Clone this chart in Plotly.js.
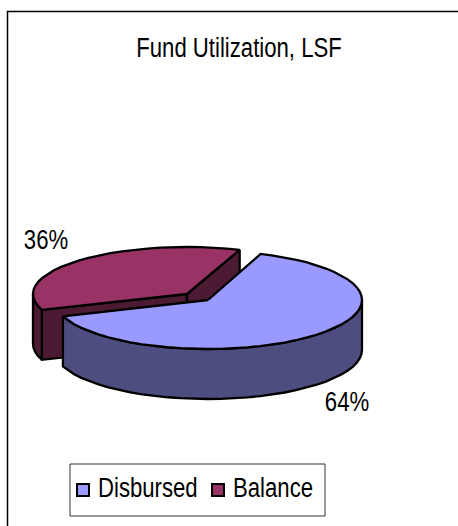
<!DOCTYPE html>
<html><head><meta charset="utf-8">
<script src="https://cdn.plot.ly/plotly-3.0.1.min.js"></script>
<style>html,body{margin:0;padding:0;background:#fff}</style></head>
<body><div id="chart" style="width:458px;height:526px"></div>
<script>
const categories = ['Disbursed', 'Balance'];
const values = [64, 36];
const topColors = ['#9999FF', '#993366'];
const sideColors = ['#4D4D80', '#4D1A33'];
const chartTitle = 'Fund Utilization, LSF';

// Pie projection, in the pixel-like axis units of the hidden axes
const RX = 154, DEPTH = 50, START = 70;
const centers = [{x: 208, y: 300, ry: 49}, {x: 187, y: 294, ry: 47}];
const total = values.reduce((a, b) => a + b, 0);
const sweep = values.map(v => v / total * 360);

function pt(c, deg, dz) {
  const t = deg * Math.PI / 180;
  return [c.x + RX * Math.cos(t), c.y - c.ry * Math.sin(t) + (dz || 0)];
}
function arc(c, a, b, dz) {
  const n = Math.max(2, Math.round(Math.abs(b - a) / 5)), out = [];
  for (let i = 0; i <= n; i++) out.push(pt(c, a + (b - a) * i / n, dz));
  return out;
}
function poly(points, color, name) {
  const p = points.concat([points[0]]);
  return {type: 'scatter', mode: 'lines', x: p.map(q => q[0]), y: p.map(q => q[1]),
    fill: 'toself', fillcolor: color, line: {color: '#000', width: 2.3},
    hoverinfo: 'skip', showlegend: false, name: name};
}

// Blue slice runs clockwise from START; red slice fills the rest
const blueEnd = START - sweep[0];
const redEnd = START + sweep[1];
const cb = centers[0], cr = centers[1];
const traces = [];

// Balance slice: visible walls then top
const rLeft = pt(cr, redEnd), rTop = pt(cr, START);
traces.push(poly(arc(cr, 180, redEnd).concat(arc(cr, redEnd, 180, DEPTH)), sideColors[1], categories[1]));
traces.push(poly([[cr.x, cr.y], rLeft, [rLeft[0], rLeft[1] + DEPTH], [cr.x, cr.y + DEPTH]], sideColors[1], categories[1]));
traces.push(poly([[cr.x, cr.y], rTop, [rTop[0], rTop[1] + DEPTH], [cr.x, cr.y + DEPTH]], sideColors[1], categories[1]));
traces.push(poly([[cr.x, cr.y]].concat(arc(cr, START, redEnd)), topColors[1], categories[1]));

// Disbursed slice: front wall then top
traces.push(poly(arc(cb, blueEnd, 0).concat(arc(cb, 0, blueEnd, DEPTH)), sideColors[0], categories[0]));
traces.push(poly([[cb.x, cb.y]].concat(arc(cb, START, blueEnd)), topColors[0], categories[0]));

// Legend entries
categories.forEach((c, i) => traces.push({
  type: 'scatter', mode: 'markers', x: [null], y: [null], name: c,
  marker: {symbol: 'square', size: 12, color: topColors[i], line: {color: '#000', width: 2.5}}
}));

const FONT = '"Liberation Sans",Arial,sans-serif';
const SIZE = 27, NARROW = 0.82;
const pct = values.map(v => Math.round(v / total * 100) + '%');

const layout = {
  width: 458, height: 526, margin: {l: 0, r: 0, t: 0, b: 0},
  paper_bgcolor: '#fff', plot_bgcolor: 'rgba(0,0,0,0)',
  font: {family: FONT, color: '#000', size: SIZE},
  title: {text: chartTitle, font: {family: FONT, size: SIZE, color: '#000'},
    x: 239 / 458, xanchor: 'center', xref: 'paper', y: 1 - 48 / 526, yanchor: 'middle', yref: 'container'},
  xaxis: {range: [0, 458], visible: false, fixedrange: true},
  yaxis: {range: [526, 0], visible: false, fixedrange: true},
  showlegend: true,
  legend: {orientation: 'h', x: 63 / 458, xanchor: 'left', y: 1 - 466 / 526, yanchor: 'top',
    bgcolor: 'rgba(0,0,0,0)', borderwidth: 0, itemwidth: 30,
    entrywidthmode: 'pixels', entrywidth: 90,
    font: {family: FONT, size: SIZE, color: '#000'}, itemsizing: 'constant', traceorder: 'normal'},
  annotations: [
    {text: pct[1], x: 46, y: 240, xref: 'x', yref: 'y', showarrow: false, font: {family: FONT, size: SIZE, color: '#000'}},
    {text: pct[0], x: 347, y: 402, xref: 'x', yref: 'y', showarrow: false, font: {family: FONT, size: SIZE, color: '#000'}}
  ],
  shapes: [
    {type: 'path', xref: 'x', yref: 'y', path: 'M 7.5 526 L 7.5 11.5 L 458 11.5', line: {color: '#000', width: 1.5}, layer: 'below'},
    {type: 'rect', xref: 'x', yref: 'y', x0: 70, x1: 325, y0: 464, y1: 516, line: {color: '#333', width: 1}, fillcolor: '#fff', layer: 'below'}
  ]
};
Plotly.newPlot('chart', traces, layout, {displayModeBar: false, staticPlot: true}).then(gd => {
  // Reference type is a condensed sans: narrow the real text horizontally
  gd.querySelectorAll('.gtitle, .annotation-text, .legendtext').forEach(t => {
    t.setAttribute('textLength', t.getComputedTextLength() * NARROW);
    t.setAttribute('lengthAdjust', 'spacingAndGlyphs');
  });
  // Legend text sits tighter to its swatch and slightly higher than the default
  gd.querySelectorAll('.legendtext').forEach(t => {
    t.setAttribute('x', parseFloat(t.getAttribute('x')) - 5);
    t.setAttribute('y', parseFloat(t.getAttribute('y')) - 4);
  });
});
</script></body></html>
